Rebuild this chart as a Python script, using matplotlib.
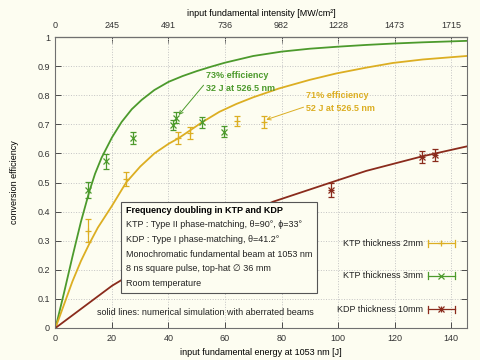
import matplotlib
matplotlib.use("Agg")
import matplotlib.pyplot as plt
from matplotlib.patches import Rectangle
import numpy as np

plt.rcParams['font.family'] = ['Liberation Sans', 'DejaVu Sans']

# simulated curves (energy J -> efficiency)
ktp3_sim_e = [0, 3, 6, 9, 12, 14, 16.3, 20, 23.4, 27, 30.5, 35, 40, 45, 50, 55, 60,
              70, 80, 90, 100, 110, 120, 130, 145.5]
ktp3_sim_v = [0, 0.12, 0.245, 0.365, 0.47, 0.53, 0.585, 0.655, 0.708, 0.752, 0.784, 0.818,
              0.846, 0.866, 0.883, 0.898, 0.912, 0.935, 0.95, 0.96, 0.967, 0.973, 0.978,
              0.982, 0.987]
ktp2_sim_e = [0, 3, 6, 9, 12, 15, 20, 25, 30, 35, 40, 43.5, 47, 51.7, 58, 64, 70, 79,
              90, 99.4, 110, 119.4, 130, 145.5]
ktp2_sim_v = [0, 0.08, 0.16, 0.23, 0.29, 0.345, 0.42, 0.5, 0.555, 0.6, 0.633, 0.652,
              0.675, 0.706, 0.743, 0.77, 0.793, 0.823, 0.853, 0.875, 0.895, 0.911, 0.923,
              0.935]
kdp_sim_e = [0, 20, 40, 60, 77, 98.4, 110, 129.4, 145.5]
kdp_sim_v = [0, 0.145, 0.262, 0.36, 0.434, 0.503, 0.54, 0.589, 0.624]

# measurements
ktp2_e = [11.6, 25.1, 43.2, 47.5, 64.2, 73.7]
ktp2_v = [0.335, 0.512, 0.652, 0.671, 0.711, 0.708]
ktp2_err = [0.038, 0.025, 0.02, 0.02, 0.018, 0.02]
ktp3_e = [11.6, 17.8, 27.5, 41.6, 42.6, 52.0, 59.7]
ktp3_v = [0.474, 0.573, 0.652, 0.697, 0.723, 0.707, 0.675]
ktp3_err = [0.028, 0.025, 0.02, 0.017, 0.02, 0.018, 0.018]
kdp_e = [97.6, 129.6, 134.3]
kdp_v = [0.474, 0.587, 0.594]
kdp_err = [0.025, 0.02, 0.02]

top_ticks = [0, 20, 40, 60, 80, 100, 120, 140]
top_labels = ['0', '245', '491', '736', '982', '1228', '1473', '1715']

labels = ['KTP thickness 2mm', 'KTP thickness 3mm', 'KDP thickness 10mm']
box_lines = ['KTP : Type II phase-matching, \u03b8=90\u00b0, \u03d5=33\u00b0',
             'KDP : Type I phase-matching, \u03b8=41.2\u00b0',
             'Monochromatic fundamental beam at 1053 nm',
             '8 ns square pulse, top-hat \u2205 36 mm',
             'Room temperature']

bg = '#fdfdf1'
c_gold = '#dcae22'
c_green = '#4c9a2c'
c_red = '#8a2b1c'
fs = 6.5


def points(x, y, mk, c, ms):
    # gnuplot-style '*' is a '+' and an 'x' on top of each other
    for m in (['+', 'x'] if mk == '*' else [mk]):
        ax.plot(x, y, ls='none', marker=m, color=c, ms=ms, mew=0.9, clip_on=False)


fig = plt.figure(figsize=(4.8, 3.6), dpi=100, facecolor=bg)
ax = fig.add_axes([0.1156, 0.089, 0.8564, 0.808])
ax.set_facecolor(bg)

ax.plot(ktp3_sim_e, ktp3_sim_v, color=c_green, lw=1.3)
ax.plot(ktp2_sim_e, ktp2_sim_v, color=c_gold, lw=1.3)
ax.plot(kdp_sim_e, kdp_sim_v, color=c_red, lw=1.3)

ax.errorbar(ktp2_e, ktp2_v, yerr=ktp2_err, fmt='none', ecolor=c_gold,
            elinewidth=0.9, capsize=2, capthick=0.9)
points(ktp2_e, ktp2_v, '+', c_gold, 5)
ax.errorbar(ktp3_e, ktp3_v, yerr=ktp3_err, fmt='none', ecolor=c_green,
            elinewidth=0.9, capsize=2, capthick=0.9)
points(ktp3_e, ktp3_v, 'x', c_green, 4)
ax.errorbar(kdp_e, kdp_v, yerr=kdp_err, fmt='none', ecolor=c_red,
            elinewidth=0.9, capsize=2, capthick=0.9)
points(kdp_e, kdp_v, '*', c_red, 4.5)

ax.set_xlim(0, 145.5)
ax.set_ylim(0, 1)
ax.set_xticks(top_ticks)
ax.set_yticks(np.arange(0, 1.01, 0.1))
ax.set_yticklabels(['0', '0.1', '0.2', '0.3', '0.4', '0.5', '0.6', '0.7', '0.8', '0.9', '1'])
ax.grid(True, color='#c4c4c4', ls=':', lw=0.7)
ax.tick_params(direction='in', length=4, width=0.6, labelsize=fs, colors='#333333',
               right=True, pad=4)
for sp in ax.spines.values():
    sp.set_color('#707070')
    sp.set_linewidth(0.8)
ax.set_xlabel('input fundamental energy at 1053 nm [J]', fontsize=fs, labelpad=4)
ax.set_ylabel('conversion efficiency', fontsize=fs, labelpad=13)

top = ax.secondary_xaxis('top')
top.set_xticks(top_ticks)
top.set_xticklabels(top_labels)
top.tick_params(direction='in', length=4, width=0.6, labelsize=fs, colors='#333333', pad=5)
top.set_xlabel('input fundamental intensity [MW/cm\u00b2]', fontsize=fs, labelpad=4)

# annotations
ax.annotate('73% efficiency\n32 J at 526.5 nm', xy=(43.6, 0.732), xytext=(53.4, 0.846),
            color=c_green, fontsize=fs, fontweight='bold', va='center', ha='left',
            linespacing=1.5,
            arrowprops=dict(arrowstyle='->', color=c_green, lw=0.7,
                            shrinkA=0, shrinkB=0, relpos=(0, 0.5)))
ax.annotate('71% efficiency\n52 J at 526.5 nm', xy=(74.6, 0.716), xytext=(88.8, 0.777),
            color=c_gold, fontsize=fs, fontweight='bold', va='center', ha='left',
            linespacing=1.5,
            arrowprops=dict(arrowstyle='->', color=c_gold, lw=0.7,
                            shrinkA=0, shrinkB=0, relpos=(0, 0.3)))

# text box
ax.add_patch(Rectangle((0.159, 0.119), 0.478, 0.315, transform=ax.transAxes,
                       facecolor=bg, edgecolor='#555555', lw=0.8, zorder=4))
ax.text(0.172, 0.405, 'Frequency doubling in KTP and KDP', transform=ax.transAxes,
        fontsize=fs, fontweight='bold', va='center', zorder=5)
for i, line in enumerate(box_lines):
    ax.text(0.172, 0.354 - i * 0.05, line, transform=ax.transAxes, fontsize=fs,
            va='center', color='#222222', zorder=5)
ax.text(0.102, 0.053, 'solid lines: numerical simulation with aberrated beams',
        transform=ax.transAxes, fontsize=fs, va='center', color='#222222', zorder=5)

# key
key_y = [0.292, 0.180, 0.065]
key_col = [c_gold, c_green, c_red]
key_mk = ['+', 'x', '*']
for lab, ky, kc, km in zip(labels, key_y, key_col, key_mk):
    ax.text(0.895, ky, lab, transform=ax.transAxes, fontsize=fs, ha='right',
            va='center', color='#222222')
    ax.plot([0.906, 0.971], [ky, ky], transform=ax.transAxes, color=kc, lw=0.9,
            clip_on=False)
    for kx in (0.906, 0.971):
        ax.plot([kx, kx], [ky - 0.012, ky + 0.012], transform=ax.transAxes, color=kc,
                lw=0.9, clip_on=False)
    for m in (['+', 'x'] if km == '*' else [km]):
        ax.plot([0.938], [ky], transform=ax.transAxes, color=kc, marker=m, ms=4.5,
                mew=0.9, clip_on=False)

fig.savefig('out.png', dpi=100, facecolor=bg)
